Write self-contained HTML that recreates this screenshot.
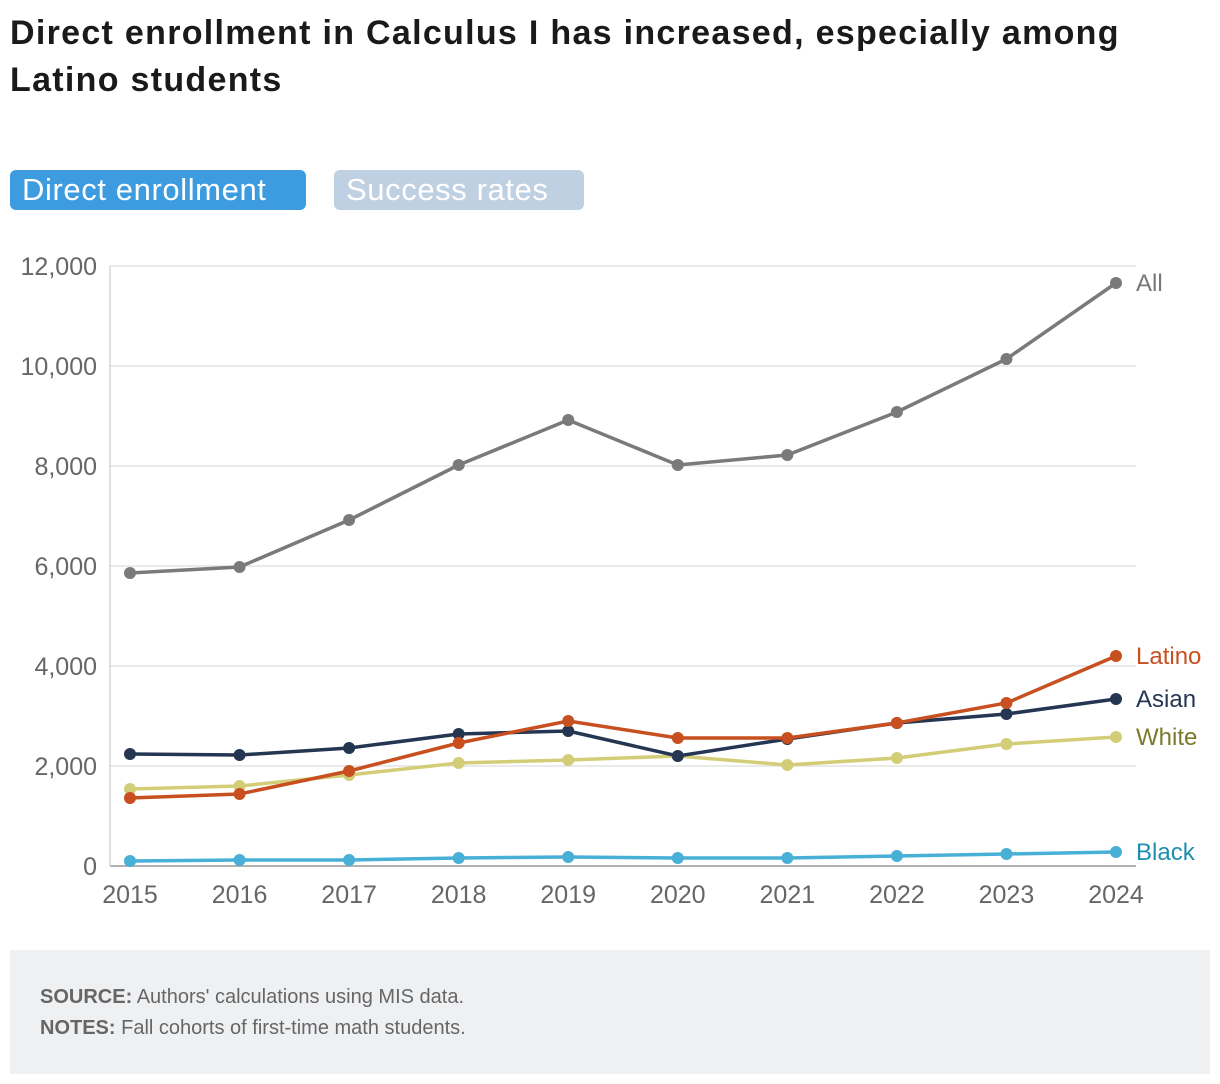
<!DOCTYPE html>
<html><head><meta charset="utf-8"><style>
body{margin:0;width:1220px;height:1084px;background:#fff;font-family:"Liberation Sans",sans-serif;position:relative;overflow:hidden}
h1{position:absolute;left:10px;top:10px;margin:0;font-size:34px;line-height:47px;font-weight:bold;color:#1a1a1a;width:1160px;letter-spacing:1.3px}
.btn{position:absolute;top:170px;height:40px;border-radius:6px;color:#fff;font-size:31px;line-height:40px;padding:0 12px;box-sizing:border-box;letter-spacing:0.6px}
.foot{position:absolute;left:10px;top:950px;width:1200px;height:124px;background:#eff0f2;color:#666;font-size:20px}
.foot p{margin:0;position:absolute;left:30px}
</style></head><body>
<h1>Direct enrollment in Calculus I has increased, especially among Latino students</h1>
<div class="btn" style="left:10px;width:296px;background:#3d9be0">Direct enrollment</div>
<div class="btn" style="left:334px;width:250px;background:#c0d0e3">Success rates</div>
<svg id="chart" width="1220" height="940" style="position:absolute;left:0;top:0"></svg>
<div class="foot">
<p style="top:36px"><b>SOURCE:</b> Authors' calculations using MIS data.</p>
<p style="top:67px"><b>NOTES:</b> Fall cohorts of first-time math students.</p>
</div>
<script>
const years=[2015,2016,2017,2018,2019,2020,2021,2022,2023,2024];
const yTicks=[0,2000,4000,6000,8000,10000,12000];
const allVals=[5860,5980,6920,8020,8920,8020,8220,9080,10140,11660];
const latinoVals=[1360,1440,1900,2460,2900,2560,2560,2860,3260,4200];
const asianVals=[2240,2220,2360,2640,2700,2200,2540,2860,3040,3340];
const whiteVals=[1540,1600,1820,2060,2120,2200,2020,2160,2440,2580];
const blackVals=[100,120,120,160,180,160,160,200,240,280];
const series=[
 {name:"All",vals:allVals,color:"#7a7a7a",label:"#777"},
 {name:"White",vals:whiteVals,color:"#d3cd78",label:"#7c7a2a"},
 {name:"Asian",vals:asianVals,color:"#253652",label:"#253652"},
 {name:"Latino",vals:latinoVals,color:"#c84f1f",label:"#c84f1f"},
 {name:"Black",vals:blackVals,color:"#48afd6",label:"#1d8fb0"}
];
const svg=document.getElementById('chart');
const NS='http://www.w3.org/2000/svg';
const x=i=>130+i*(1116-130)/(years.length-1);
const y=v=>866-v*0.05;
function mk(t,a,p){const e=document.createElementNS(NS,t);for(const k in a)e.setAttribute(k,a[k]);(p||svg).appendChild(e);return e;}
yTicks.forEach(t=>{
 const g=mk('line',{x1:110,x2:1136,y1:y(t),y2:y(t),stroke:t===0?'#999':'#ddd','stroke-width':t===0?1.5:1.2});
 
 
 const tx=mk('text',{x:97,y:y(t)+9,'text-anchor':'end','font-size':25,fill:'#666','font-family':'Liberation Sans'});
 tx.textContent=t.toLocaleString('en-US');
 
 
});
const ax=mk('line',{x1:110,x2:110,y1:266,y2:866,stroke:'#ccc','stroke-width':1.2});


years.forEach((yr,i)=>{
 const tx=mk('text',{x:x(i),y:903,'text-anchor':'middle','font-size':25,fill:'#666','font-family':'Liberation Sans'});
 tx.textContent=yr;
 
 
});
series.forEach(s=>{
 const pl=mk('polyline',{points:s.vals.map((v,i)=>x(i)+','+y(v)).join(' '),fill:'none',stroke:s.color,'stroke-width':3.5});
 
 
 s.vals.forEach((v,i)=>{
  const c=mk('circle',{cx:x(i),cy:y(v),r:6,fill:s.color});
  
  
 });
 const last=s.vals[s.vals.length-1];
 const lb=mk('text',{x:1136,y:y(last)+8,'font-size':24,fill:s.label,'font-family':'Liberation Sans'});
 lb.textContent=s.name;
 
 
});
</script>
</body></html>
